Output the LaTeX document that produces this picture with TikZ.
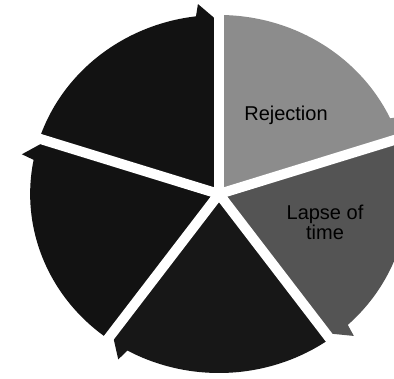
\documentclass[tikz,border=0pt]{standalone}
\usepackage{fontspec}
\setmainfont{Liberation Sans}
\usepackage{xcolor}
\usepackage{tikz}

\begin{document}
\begin{tikzpicture}[
  x=1pt, y=1pt,
  gap/.style={draw=white, line width=10pt},
  lbl/.style={align=center, font=\fontsize{20}{20}\selectfont, text=black, inner sep=0pt}
]
\useasboundingbox (0,0) rectangle (394,379);
\fill[white] (0,0) rectangle (394,379);

\begin{scope}[shift={(219,185)}, xscale=1.055]
  \coordinate (c) at (0,0);
  % segments: from / to (leading edge, with barb) / fill
  \foreach \a/\b/\col in {162/90/black!93, 90/18/black!45, 18/-54/black!67,
                         -54/-126/black!91, -126/-198/black!93}{
    \fill[\col] (c) -- (\a:179) arc[start angle=\a, end angle=\b+7, radius=179]
      -- (\b+6:191) -- (\b:172) -- cycle;
  }
  % white gaps between segments
  \foreach \g in {90,18,-54,-126,162}
    \draw[gap] (c) -- (\g:200);
\end{scope}

\node[lbl] (rej) at (286,264) {Rejection};
\node[lbl] (lapse) at (325,157) {Lapse of\\time};
\end{tikzpicture}
\end{document}
